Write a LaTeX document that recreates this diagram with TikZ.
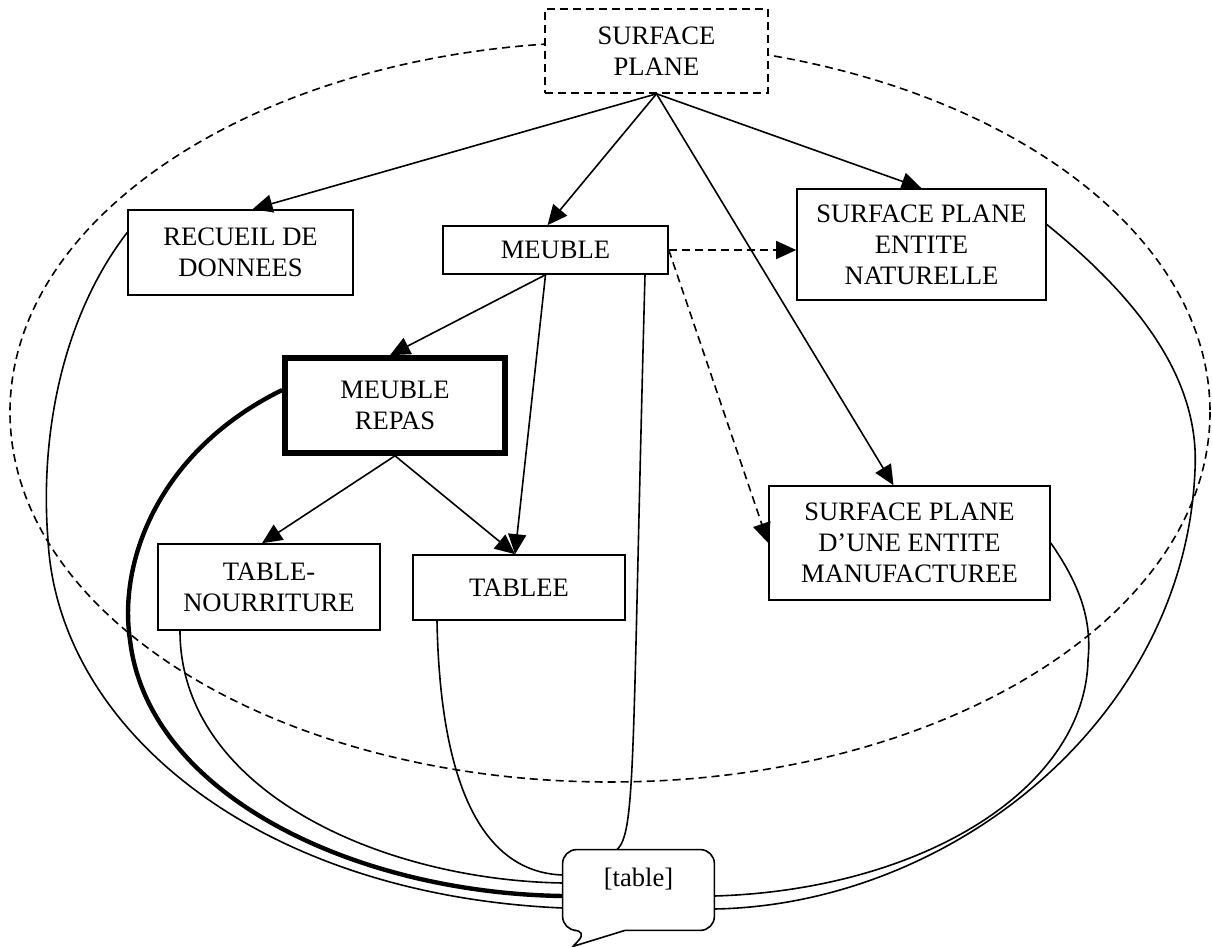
\documentclass[tikz,border=0pt]{standalone}
\usepackage{fontspec}
\setmainfont{Liberation Serif}
\usetikzlibrary{arrows.meta,calc,backgrounds}
\begin{document}
\begin{tikzpicture}[x=0.5pt,y=-0.5pt,
  box/.style={draw,fill=white,line width=0.8pt,align=center,inner sep=0pt,
    font=\fontsize{13.3}{15.5}\selectfont},
  conn/.style={line width=0.8pt},
  arr/.style={conn,-{Triangle[length=10pt,width=9pt]}},
  dsh/.style={dash pattern=on 4pt off 2.5pt},
  thickline/.style={line width=2.2pt}]
\useasboundingbox (0,0) rectangle (1212,947);

% nodes
\node[box,dsh,minimum width=111.5pt,minimum height=42pt] (sp) at (656.5,51) {SURFACE\\PLANE};
\node[box,minimum width=112.5pt,minimum height=42.5pt] (rec) at (240.5,252.5) {RECUEIL DE\\DONNEES};
\node[box,minimum width=112.5pt,minimum height=24pt] (meu) at (555.5,250) {MEUBLE};
\node[box,minimum width=124.5pt,minimum height=55.5pt] (nat) at (921.5,244.5) {SURFACE PLANE\\ENTITE\\NATURELLE};
\node[box,line width=2.8pt,minimum width=110pt,minimum height=47.5pt] (rep) at (395,405.5) {MEUBLE\\REPAS};
\node[box,minimum width=111pt,minimum height=43pt] (tn) at (269,587) {TABLE-\\NOURRITURE};
\node[box,minimum width=106pt,minimum height=32.5pt] (tab) at (519,587.5) {TABLEE};
\node[box,minimum width=140.5pt,minimum height=57pt] (man) at (909.5,543) {SURFACE PLANE\\D’UNE ENTITE\\MANUFACTUREE};
\node[minimum width=75.5pt,minimum height=40pt,inner sep=0pt,text height=6pt,text depth=9.5pt,
  font=\fontsize{13.3}{15.5}\selectfont] (tbl) at (638.5,890) {[table]};
\coordinate (tip) at ([xshift=-32.75pt,yshift=-8pt]tbl.south);

% dashed ellipse
\begin{pgfonlayer}{background}
\draw[conn,dsh] (610,412) ellipse [x radius=600,y radius=370];
\end{pgfonlayer}

% callout outline
\draw[conn] (tbl.north) [rounded corners=7pt] -- (tbl.north west) -- (tbl.south west)
  -- ([xshift=-25.25pt]tbl.south) [sharp corners] -- (tip) -- ([xshift=-6.75pt]tbl.south)
  [rounded corners=7pt] -- (tbl.south east) -- (tbl.north east) -- cycle;

% arrows
\draw[arr] (sp.south) -- ([xshift=6pt]rec.north);
\draw[arr] (sp.south) -- ([xshift=-4pt]meu.north);
\draw[arr] (sp.south) -- (nat.north);
\draw[arr] (sp.south) -- ([xshift=-8pt]man.north);
\draw[arr] ([xshift=-5pt]meu.south) -- ([xshift=-2.5pt]rep.north);
\draw[arr] ([xshift=-5pt]meu.south) -- ([xshift=-2pt]tab.north);
\draw[arr] (rep.south) -- ([xshift=-2pt]tab.north);
\draw[arr] (rep.south) -- ([xshift=-3.5pt]tn.north);
\draw[arr,dsh] (meu.east) -- (meu.east -| nat.west);
\draw[arr,dsh] (meu.east) -- (man.west);

% curves to [table]
\draw[conn] ([yshift=10pt]rec.west) .. controls (60,320) and (40,440) .. (48,540)
  .. controls (58,730) and (260,895) .. ([yshift=-9pt]tbl.west);
\draw[thickline] ([yshift=7.75pt]rep.west) .. controls (160,450) and (118,560) .. (130,640)
  .. controls (148,795) and (355,893) .. ([yshift=-3pt]tbl.west);
\draw[conn] ([xshift=-44.5pt]tn.south) .. controls (180,790) and (380,880) .. ([yshift=3.5pt]tbl.west);
\draw[conn] ([xshift=-41pt]tab.south) .. controls (440,780) and (480,872) .. ([yshift=7.5pt]tbl.west);
\draw[conn] ([xshift=44.75pt]meu.south) .. controls (632,760) and (636,832) .. ([xshift=-10.75pt]tbl.north);
\draw[conn] ([yshift=10pt]nat.east) .. controls (1140,300) and (1200,380) .. (1195,470)
  .. controls (1185,720) and (950,905) .. ([yshift=-9.5pt]tbl.east);
\draw[conn] (man.east) .. controls (1080,585) and (1092,620) .. (1088,660)
  .. controls (1085,790) and (920,890) .. ([yshift=-3pt]tbl.east);
\end{tikzpicture}
\end{document}
